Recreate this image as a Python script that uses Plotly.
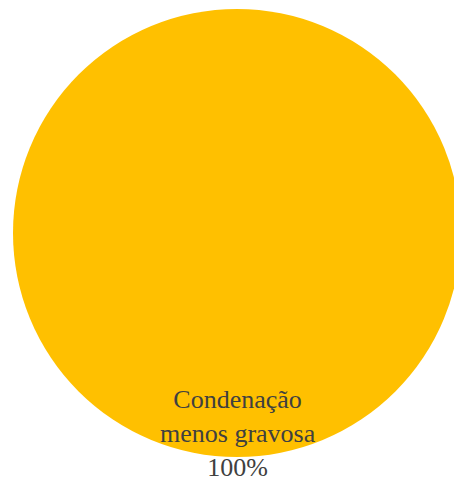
import plotly.graph_objects as go

# data
labels = ["Condenação menos gravosa"]
values = [100]
label_lines = ["Condenação", "menos gravosa"]
colors = ["#FFC000"]

total = sum(values)
pct = [f"{v / total:.0%}" for v in values]

fig = go.Figure()

fig.add_trace(go.Pie(
    labels=labels,
    values=values,
    marker=dict(colors=colors, line=dict(width=0)),
    textinfo="none",
    sort=False,
    direction="clockwise",
    rotation=0,
    showlegend=False,
    hoverinfo="label+percent",
))

# label sits at the bottom of the circle like the original
fig.add_annotation(
    x=0.503, xref="paper",
    y=0.0, yref="paper",
    yanchor="bottom",
    yshift=-27,
    text="<br>".join(label_lines + [pct[0]]),
    showarrow=False,
    font=dict(family="Liberation Serif, Times New Roman, serif", size=26, color="#404040"),
)

fig.update_layout(
    width=470,
    height=481,
    margin=dict(l=13, r=9, t=9, b=24),
    paper_bgcolor="white",
    plot_bgcolor="white",
)

fig.write_html(
    "out.html",
    config={"displayModeBar": False},
    post_script="document.body.style.margin='0';document.body.style.overflow='hidden';",
)
